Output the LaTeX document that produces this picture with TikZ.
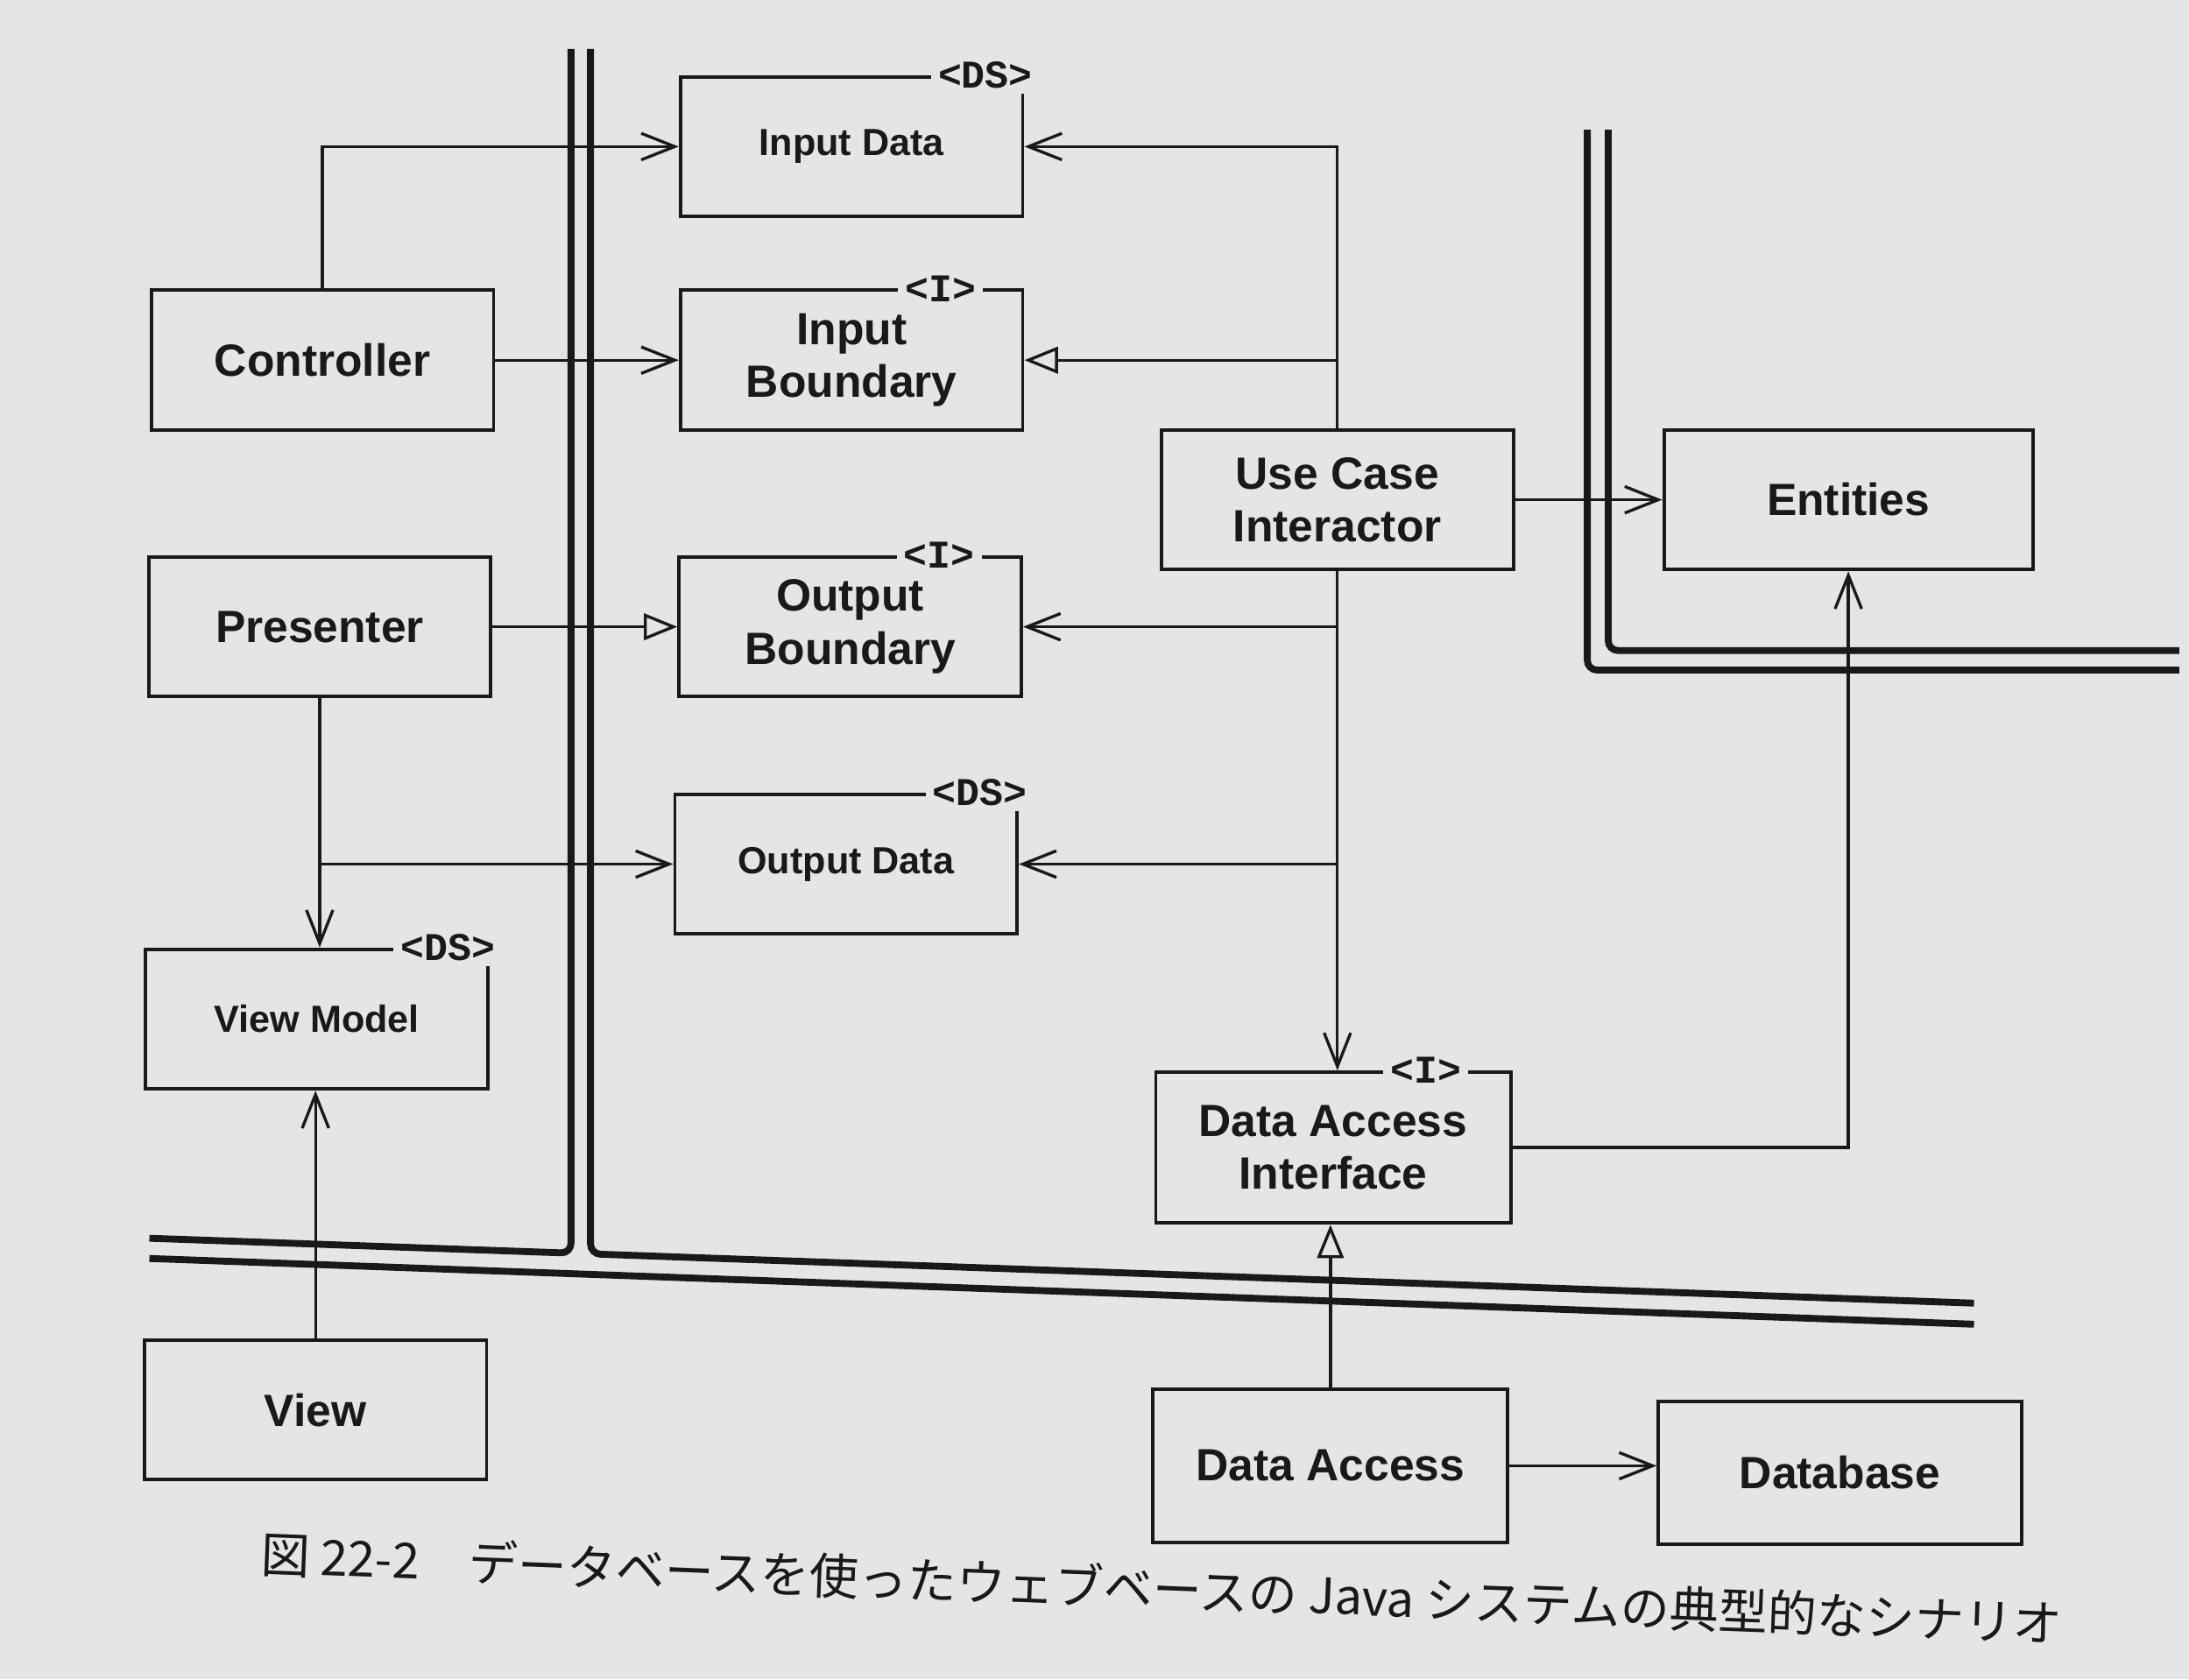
\documentclass[tikz,border=0pt]{standalone}
\usepackage{fontspec}
\setmainfont{Liberation Sans}
\setmonofont{Liberation Mono}
\newfontfamily\jpfont{Noto Sans CJK JP}
\usepackage{tikz}
\usetikzlibrary{arrows.meta}
\usetikzlibrary{positioning}

\definecolor{paper}{RGB}{229,229,231}
\definecolor{ink}{RGB}{25,25,25}

\begin{document}
\begin{tikzpicture}[x=0.01cm,y=-0.01cm,
  >={Straight Barb[length=2.4mm,width=1.9mm]},
  box/.style={draw=ink,text=ink,line width=0.7pt,minimum width=2.45cm,minimum height=1cm,
    align=center,inner sep=0pt,font=\fontsize{9.2}{10.8}\selectfont\bfseries},
  dsbox/.style={box,font=\fontsize{7.7}{9}\selectfont\bfseries},
  stereo/.style={fill=paper,text=ink,inner xsep=0.05cm,inner ysep=0.04cm,
    font=\fontsize{8}{9}\selectfont\ttfamily\bfseries},
  wall/.style={draw=ink,line width=1.4pt,rounded corners=2pt},
  conn/.style={draw=ink,line width=0.6pt},
  impl/.style={conn,-{Triangle[open,length=2.4mm,width=1.9mm]}}]
  \fill[paper] (0,0) rectangle (1568,1203);

  % Grenzen (doppelte Linien)
  \draw[wall] (409,35) -- (409,897.7) -- (107,887);
  \draw[wall] (423,35) -- (423,898.2) -- (1414,933.5);
  \draw[wall] (107,901.5) -- (1414,948.6);
  \draw[wall] (1152,93) -- (1152,466) -- (1561,466);
  \draw[wall] (1137,93) -- (1137,480) -- (1561,480);

  % linke Spalte
  \node[box] (ctrl) at (231,258) {Controller};
  \node[box] (pres) at (229,449) {Presenter};
  \node[dsbox] (vm) at (227,730) {View Model};
  \node[box] (view) at (226,1010) {View};

  % mittlere Spalte
  \node[dsbox] (indata) at (610,105) {Input Data};
  \node[box] (inbound) at (610,258) {Input\\Boundary};
  \node[box] (outbound) at (609,449) {Output\\Boundary};
  \node[dsbox] (outdata) at (606,619) {Output Data};

  % rechte Seite
  \node[box,minimum width=2.52cm] (uci) at (958,358) {Use Case\\Interactor};
  \node[box,minimum width=2.64cm] (ent) at (1324,358) {Entities};
  \node[box,minimum width=2.54cm,minimum height=1.08cm] (dai) at (955,822) {Data Access\\Interface};
  \node[box,minimum width=2.54cm,minimum height=1.1cm] (da) at (953,1050) {Data Access};
  \node[box,minimum width=2.6cm,minimum height=1.02cm] (db) at (1318,1055) {Database};

  % Stereotypen
  \foreach \n/\s/\dx in {indata/DS/0.28,outdata/DS/0.28,vm/DS/0.3,inbound/I/0.6,outbound/I/0.6,dai/I/0.62}
    \node[stereo] at ([xshift=-\dx cm]\n.north east) {<\s>};

  % Verbindungen
  \draw[conn,->] (ctrl.north) |- (indata.west);
  \draw[conn,->] (ctrl.east) -- (inbound.west);
  \draw[impl] (pres.east) -- (outbound.west);
  \draw[conn,->] (pres.south) -- (pres.south |- vm.north);
  \draw[conn,->] (pres.south |- outdata.west) -- (outdata.west);
  \draw[conn,->] (view.north) -- (view.north |- vm.south);
  \draw[conn,->] (uci.north) |- (indata.east);
  \draw[impl] (uci.north |- inbound.east) -- (inbound.east);
  \draw[conn,->] (uci.south) -- (uci.south |- dai.north);
  \draw[conn,->] (uci.south |- outbound.east) -- (outbound.east);
  \draw[conn,->] (uci.south |- outdata.east) -- (outdata.east);
  \draw[conn,->] (uci.east) -- (ent.west);
  \draw[conn,->] (dai.east) -| (ent.south);
  \draw[impl] (da.north) -- (da.north |- dai.south);
  \draw[conn,->] (da.east) -- (da.east -| db.west);

  % Bildunterschrift
  \node[text=ink,font=\jpfont\fontsize{10}{12}\selectfont,rotate=-2.2] (cap) at (832,1138)
    {図 22-2　データベースを使ったウェブベースの Java システムの典型的なシナリオ};
\end{tikzpicture}
\end{document}
